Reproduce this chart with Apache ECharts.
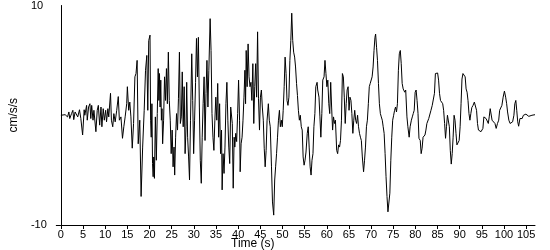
<!DOCTYPE html>
<html>
<head>
<meta charset="utf-8">
<script src="https://cdn.jsdelivr.net/npm/echarts@6/dist/echarts.min.js"></script>
<style>html,body{margin:0;padding:0;background:#fff}#c{width:550px;height:250px}</style>
</head>
<body>
<div id="c"></div>
<script>
// [time (s), acceleration (cm/s/s)], segment by segment
const seg1 = [[0,0],[0.96,0.05],[1.5,-0.15],[1.8,0.3],[2.0,-0.3],[2.4,0.15],[2.7,0.45],[2.9,-0.4],[3.2,0.3],[3.5,0.45],[3.8,-0.15],[4.2,0.5],[4.5,-0.3],[4.9,-1.8],[5.25,0.5],[5.4,0],[5.8,0.9],[5.95,-0.45],[6.25,0.75],[6.55,1.05],[6.75,-0.3],[6.95,0.9],[7.25,-0.45],[7.45,0.45],[7.9,-1.5],[8.2,0.45],[8.45,0.9],[8.75,-0.9],[9.05,0.75],[9.25,-1.05],[9.55,0.6],[9.8,-0.45],[10.1,0.45],[10.3,-0.6],[10.6,0.6],[10.8,-0.15],[11.2,2.0],[11.4,-0.45],[11.7,-1.05],[11.95,0.15],[12.25,-0.6],[12.6,0.45],[12.95,1.7],[13.2,-0.45],[13.55,-0.15],[13.9,-2.1],[14.2,-1.05],[14.5,-0.15],[14.85,1.05],[15.0,2.6],[15.3,0.45],[15.55,1.2],[15.8,-0.15],[16.1,-3.0],[16.4,-0.75],[16.7,3.5],[16.95,3.8],[17.2,5.0],[17.45,-2.6],[17.8,-0.45],[18.1,-7.4],[18.45,-2.9],[18.8,0.45],[19.1,4.1]];
const seg2 = [[19.39,5.45],[19.61,0.45],[19.82,6.8],[20.11,7.3],[20.25,-0.45],[20.39,-2.0],[20.54,1.05],[20.68,-4.4],[20.82,-5.6],[20.96,-3.8],[21.11,-5.75],[21.32,-0.15],[21.54,-4.1],[21.75,0.15],[21.96,4.25],[22.11,1.35],[22.25,3.8],[22.39,0.75],[22.54,3.2],[22.68,-0.45],[22.82,0.6],[22.96,-2.6],[23.18,-0.45],[23.39,3.5],[23.61,1.35],[23.82,4.25],[24.03,1.05],[24.25,5.75],[24.46,1.35],[24.68,-0.45],[24.89,-3.5],[25.11,-1.35],[25.32,-4.7],[25.53,-2.9],[25.68,-5.45],[25.89,-2.0],[26.1,0.15],[26.32,-1.35],[26.53,1.5],[26.75,5.75],[26.96,-0.75],[27.18,-0.15],[27.39,3.95],[27.6,-1.05],[27.82,2.6],[28.03,-3.5],[28.25,-1.05],[28.39,3.0],[28.6,-2.0],[28.82,-3.8],[29.03,-5.9],[29.25,-0.45],[29.53,5.6],[29.75,1.35],[29.96,-3.5],[30.17,-0.45],[30.39,3.0],[30.6,7.0],[30.82,3.5],[31.03,7.1],[31.25,0.75],[31.46,-4.1],[31.68,-6.2],[31.89,-2.0],[32.1,1.05],[32.32,3.5],[32.53,-2.3],[32.75,2.0],[32.96,5.0],[33.18,0.75],[33.39,4.1],[33.68,8.8],[33.89,5.9],[34.1,0.15],[34.32,-2.0],[34.53,-3.2],[34.75,-0.45],[34.96,1.65],[35.18,-0.45],[35.39,2.9],[35.6,-2.0],[35.82,1.05],[36.03,-3.5],[36.25,-1.35],[36.39,-6.8],[36.6,-3.5],[36.82,-5.3],[37.03,-2.9],[37.25,1.05],[37.46,3.0],[37.68,-0.45],[37.89,-2.9],[38.1,-4.4],[38.32,0.75],[38.53,0.9]];
const seg3 = [[38.68,-0.75],[38.89,-6.65],[39.1,-2.0],[39.25,-2.9],[39.46,-1.65],[39.67,-2.4],[39.89,0.15],[40.1,3.2],[40.32,-0.45],[40.46,-5.15],[40.67,-2.6],[40.89,-2.0],[41.1,-0.45],[41.32,1.65],[41.53,4.1],[41.68,1.05],[41.82,5.9],[42.03,2.6],[42.25,6.5],[42.46,3.5],[42.68,2.6],[42.89,3.0],[43.1,1.35],[43.32,4.7],[43.53,-0.75],[43.75,2.6],[43.96,4.7],[44.17,1.65],[44.39,7.6],[44.6,1.5],[44.82,-1.35],[45.03,1.65],[45.25,2.3],[45.46,0.75],[45.68,-0.45],[45.89,-3.0],[46.1,-4.7],[46.32,-3.2],[46.53,-0.45],[46.82,1.05],[47.03,-0.45],[47.25,-1.05],[47.53,-4.7],[47.75,-7.9],[48.03,-9.1],[48.25,-5.9],[48.46,-4.7],[48.67,-3.5],[48.89,-2.0],[49.1,-0.45],[49.32,0.45],[49.53,-1.05],[49.75,-0.45],[49.96,-1.05],[50.17,0.45],[50.39,2.6],[50.6,5.3],[50.82,3.8],[51.03,1.35],[51.25,0.9],[51.46,1.65],[51.68,5.0],[51.89,6.8],[52.1,9.3],[52.32,6.8],[52.53,5.75],[52.75,5.3],[52.96,4.4],[53.18,2.9],[53.39,1.8],[53.6,0.45],[53.82,-0.45],[54.03,0],[54.25,-1.05],[54.46,-1.35],[54.67,-3.8],[54.89,-4.55],[55.1,-4.1],[55.32,-3.35],[55.6,-1.65],[55.82,-1.05],[56.03,-2.9],[56.25,-4.7],[56.46,-5.45],[56.67,-4.1],[56.89,-3.5],[57.1,-1.05],[57.32,0.15],[57.53,2.6],[57.82,3.0]];
const seg4 = [[57.96,2.3],[58.25,1.65],[58.46,-0.15],[58.67,-2.0],[58.89,0.15],[59.1,3.2],[59.39,3.5],[59.6,5.0],[59.82,3.8],[60.03,2.6],[60.24,3.2],[60.46,1.05],[60.67,0.15],[60.89,3.0],[61.1,0.75],[61.32,-1.35],[61.53,-0.15],[61.75,-0.75],[61.96,-0.45],[62.24,-3.2],[62.46,-3.5],[62.67,-2.7],[62.89,-2.9],[63.1,-2.3],[63.32,-0.45],[63.53,3.8],[63.75,3.5],[63.96,1.65],[64.17,-0.75],[64.39,1.05],[64.6,2.3],[64.82,2.6],[65.03,0.45],[65.24,1.65],[65.46,1.35],[65.67,0.15],[65.89,-1.65],[66.1,-0.45],[66.31,0.45],[66.53,-0.45],[66.74,-0.75],[66.96,0],[67.17,-1.05],[67.39,-1.65],[67.6,-2.0],[67.81,-2.3],[68.03,-3.8],[68.31,-5.15],[68.53,-4.1],[68.74,-2.9],[68.96,-1.05],[69.17,-0.45],[69.39,1.05],[69.6,2.6],[69.81,2.9],[70.03,3.0],[70.24,3.5],[70.46,4.4],[70.67,5.9],[70.88,7.1],[71.03,7.4],[71.24,6.2],[71.45,5.0],[71.67,2.9],[71.88,1.05],[72.1,0.15],[72.31,-0.15],[72.53,-0.45],[72.74,-1.05],[72.95,-1.65],[73.17,-3.5],[73.38,-5.6],[73.6,-7.4],[73.81,-8.8],[74.03,-8.9],[74.24,-7.1],[74.46,-4.1],[74.67,-2.0],[74.88,-0.45],[75.1,0],[75.31,0.45],[75.53,0.75],[75.74,0.3],[75.95,1.05],[76.17,4.1],[76.38,5.6],[76.6,5.9],[76.81,4.7],[77.02,2.9]];
const seg5 = [[77.25,2.4],[77.6,2.1],[77.82,2.3],[78.1,-0.15],[78.31,-1.05],[78.6,-2.0],[78.81,-1.05],[79.1,-0.45],[79.31,-0.15],[79.52,0.15],[79.74,0.45],[79.95,2.1],[80.17,2.3],[80.38,1.35],[80.6,0.15],[80.81,-2.1],[81.1,-2.3],[81.31,-3.5],[81.52,-3.0],[81.74,-2.0],[81.95,-2.0],[82.17,-1.8],[82.38,-1.35],[82.6,-0.75],[82.81,-0.6],[83.02,-0.3],[83.24,-0.15],[83.52,0.45],[83.81,0.9],[84.1,1.05],[84.31,2.0],[84.52,3.8],[84.81,3.95],[85.02,3.85],[85.24,3.2],[85.45,2.0],[85.67,1.35],[85.88,1.2],[86.17,1.05],[86.38,0.45],[86.6,-0.75],[86.81,-2.1],[87.02,-1.05],[87.24,0],[87.45,-0.15],[87.67,-1.05],[87.88,-3.2],[88.1,-4.45],[88.31,-3.5],[88.52,-2.0],[88.74,0],[88.95,-0.45],[89.17,-1.65],[89.38,-2.7],[89.67,-2.6],[89.88,-2.3],[90.1,-1.05],[90.31,1.05],[90.52,3.3],[90.74,3.8],[91.02,3.85],[91.24,3.5],[91.45,2.4],[91.67,2.1],[91.88,1.35],[92.1,0.15],[92.31,-0.45],[92.52,0.15],[92.74,0.7],[93.02,0.9],[93.31,1.2],[93.52,1.05],[93.81,0.45],[94.02,-0.75],[94.24,-1.35],[94.52,-1.35],[94.81,-1.5],[95.02,-1.65],[95.24,-1.2],[95.46,-0.15],[95.67,0],[95.96,-0.3],[96.24,-0.15],[96.46,-0.75],[96.67,-0.15],[96.89,0.6],[97.1,0.45],[97.31,-0.45],[97.53,-0.6],[97.74,-0.4],[97.96,-0.75],[98.24,-1.2],[98.53,-0.75],[98.81,-0.45],[99.02,0.45],[99.24,0.6],[99.53,0.9],[99.81,1.65],[100.1,2.2],[100.38,1.65],[100.6,1.05],[100.81,0.3],[101.1,-0.45],[101.38,-0.75],[101.67,-0.9],[101.95,-0.6],[102.24,0],[102.45,1.05],[102.67,1.35],[102.88,0.45],[103.1,-0.6],[103.31,-1.0],[103.6,-0.3],[103.81,-0.45],[104.1,-0.3],[104.38,0],[104.67,0.15],[104.95,0.1],[105.24,0],[105.6,-0.1],[105.95,-0.05],[106.31,0],[106.67,0.05],[107.0,0.05]];

const xTickValues = [0,5,10,15,20,25,30,35,40,45,50,55,60,65,70,75,80,85,90,95,100,105];
const yLabelValues = [-10, 10];
const yTickValues = [-10];

const series = seg1.concat(seg2, seg3, seg4, seg5);
const font = "'Liberation Sans Narrow', 'Liberation Sans', sans-serif";

const chart = echarts.init(document.getElementById('c'), null, {renderer: 'canvas'});
chart.setOption({
  animation: false,
  backgroundColor: '#fff',
  title: {
    text: 'Time (s)', left: 231, top: 238, padding: 0,
    textStyle: {fontSize: 12, fontWeight: 'normal', color: '#000', fontFamily: "'Liberation Sans', sans-serif"}
  },
  grid: {left: 35, right: 15, top: 5, bottom: 25, containLabel: false},
  xAxis: {
    type: 'value', min: 0, max: 107,
    axisLine: {show: true, onZero: false, lineStyle: {color: '#000', width: 1}},
    axisTick: {show: true, length: 4, lineStyle: {color: '#000'}, customValues: xTickValues},
    axisLabel: {color: '#000', fontSize: 11, margin: 4, fontFamily: font, customValues: xTickValues},
    splitLine: {show: false}
  },
  yAxis: {
    type: 'value', min: -10, max: 10,
    name: 'cm/s/s', nameLocation: 'middle', nameGap: 20, nameRotate: 90,
    nameTextStyle: {color: '#000', fontSize: 12, fontFamily: "'Liberation Sans', sans-serif"},
    axisLine: {show: true, onZero: false, lineStyle: {color: '#000', width: 1}},
    axisTick: {show: true, length: 5, lineStyle: {color: '#000'}, customValues: yTickValues},
    axisLabel: {color: '#000', fontSize: 11, margin: 30, align: 'left', fontFamily: font, customValues: yLabelValues},
    splitLine: {show: false}
  },
  series: [{
    type: 'line', data: series, showSymbol: false, symbol: 'none',
    lineStyle: {color: '#000', width: 1}, silent: true
  }]
});
</script>
</body>
</html>
